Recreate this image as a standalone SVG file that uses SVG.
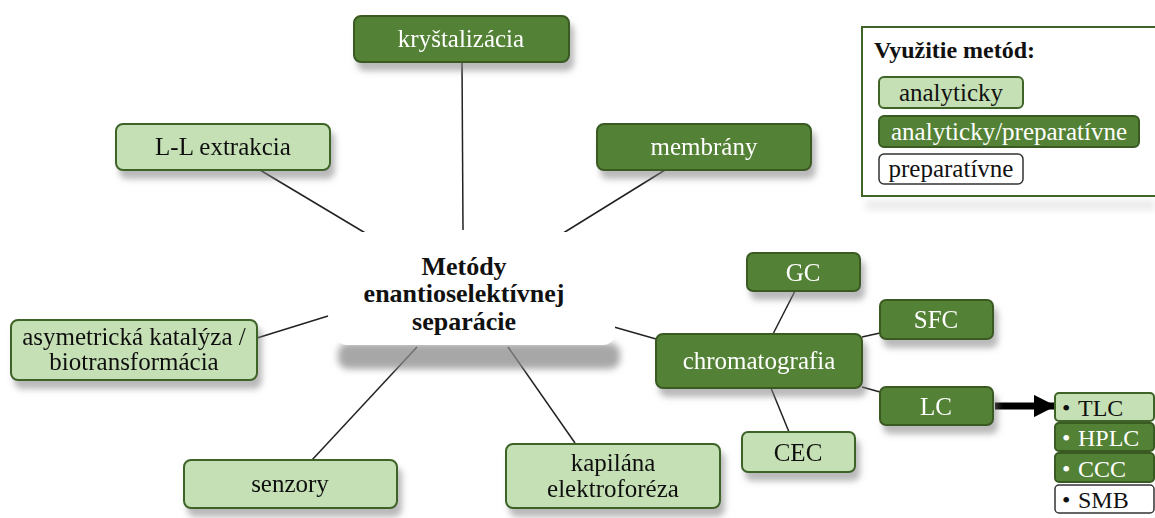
<svg xmlns="http://www.w3.org/2000/svg" width="1155" height="518" viewBox="0 0 1155 518" font-family="Liberation Serif, serif">
<defs>
<filter id="sh" x="-20%" y="-30%" width="140%" height="180%">
<feDropShadow dx="4" dy="8" stdDeviation="3" flood-color="#7f7f7f" flood-opacity="0.55"/>
</filter>
<filter id="blur" x="-20%" y="-50%" width="140%" height="200%">
<feGaussianBlur stdDeviation="3.5"/>
</filter>
<marker id="arr" viewBox="0 0 10 10" refX="9" refY="5" markerWidth="3.2" markerHeight="3.2" orient="auto" markerUnits="strokeWidth">
<path d="M0,0 L10,5 L0,10 z" fill="#000"/>
</marker>
</defs>
<style>
.dark{fill:#538135;stroke:#3a5a24;stroke-width:2}
.light{fill:#c5e0b4;stroke:#3e6428;stroke-width:2}
.white{fill:#fff;stroke:#333;stroke-width:1.5}
.box{filter:url(#sh)}
text{font-size:25px;text-anchor:middle}
.tw{fill:#fff}
.tb{fill:#111}
.ctr{font-weight:bold;font-size:26px;fill:#111}
.li{font-size:24px;text-anchor:start}
.conn line{stroke:#222;stroke-width:1.5}
</style>
<rect width="1155" height="518" fill="#fff"/>

<g id="connectors" class="conn">
<line x1="462" y1="62" x2="463" y2="230"/>
<line x1="260" y1="170" x2="377" y2="240"/>
<line x1="665" y1="170" x2="552" y2="240"/>
<line x1="257" y1="338" x2="328" y2="316"/>
<line x1="312" y1="460" x2="417" y2="347"/>
<line x1="575" y1="443" x2="508" y2="347"/>
<line x1="600" y1="323" x2="656" y2="339"/>
<line x1="795" y1="291" x2="773" y2="334"/>
<line x1="862" y1="337" x2="880" y2="333"/>
<line x1="862" y1="387" x2="880" y2="392"/>
<line x1="771" y1="388" x2="789" y2="432"/>
<line x1="995" y1="406" x2="1054" y2="406" style="stroke:#000;stroke-width:7" marker-end="url(#arr)"/>
</g>

<g id="center" font-family="Liberation Serif, serif">
<rect x="338" y="343" width="282" height="26" rx="10" fill="#8a8a8a" opacity="0.75" filter="url(#blur)"/>
<rect x="335" y="232" width="280" height="113" rx="12" fill="#fff"/>
<text class="ctr" x="464" y="275" font-family="Liberation Serif, serif">Metódy</text>
<text class="ctr" x="464" y="302" font-family="Liberation Serif, serif">enantioselektívnej</text>
<text class="ctr" x="464" y="330" font-family="Liberation Serif, serif">separácie</text>
</g>

<g id="krystalizacia" class="box">
<rect class="dark" x="354" y="16" width="215" height="46" rx="7"/>
<text class="tw" x="461" y="47" font-family="Liberation Serif, serif">kryštalizácia</text>
</g>
<g id="ll-extrakcia" class="box">
<rect class="light" x="116" y="124" width="214" height="46" rx="7"/>
<text class="tb" x="223" y="155" font-family="Liberation Serif, serif">L-L extrakcia</text>
</g>
<g id="membrany" class="box">
<rect class="dark" x="597" y="124" width="214" height="46" rx="7"/>
<text class="tw" x="704" y="155" font-family="Liberation Serif, serif">membrány</text>
</g>
<g id="asymetricka" class="box">
<rect class="light" x="11" y="320" width="246" height="60" rx="7"/>
<text class="tb" x="134" y="345" font-family="Liberation Serif, serif">asymetrická katalýza /</text>
<text class="tb" x="134" y="370" font-family="Liberation Serif, serif">biotransformácia</text>
</g>
<g id="senzory" class="box">
<rect class="light" x="184" y="460" width="213" height="48" rx="7"/>
<text class="tb" x="290" y="492" font-family="Liberation Serif, serif">senzory</text>
</g>
<g id="kapilana" class="box">
<rect class="light" x="506" y="444" width="214" height="64" rx="7"/>
<text class="tb" x="613" y="471" font-family="Liberation Serif, serif">kapilána</text>
<text class="tb" x="613" y="497" font-family="Liberation Serif, serif">elektroforéza</text>
</g>
<g id="chromatografia" class="box">
<rect class="dark" x="656" y="334" width="206" height="54" rx="7"/>
<text class="tw" x="759" y="369" font-family="Liberation Serif, serif">chromatografia</text>
</g>
<g id="gc" class="box">
<rect class="dark" x="747" y="253" width="113" height="38" rx="6"/>
<text class="tw" x="803" y="281" font-family="Liberation Serif, serif">GC</text>
</g>
<g id="sfc" class="box">
<rect class="dark" x="880" y="300" width="113" height="39" rx="6"/>
<text class="tw" x="936" y="328" font-family="Liberation Serif, serif">SFC</text>
</g>
<g id="lc" class="box">
<rect class="dark" x="880" y="387" width="113" height="38" rx="6"/>
<text class="tw" x="936" y="415" font-family="Liberation Serif, serif">LC</text>
</g>
<g id="cec" class="box">
<rect class="light" x="742" y="432" width="113" height="40" rx="6"/>
<text class="tb" x="798" y="461" font-family="Liberation Serif, serif">CEC</text>
</g>

<g id="lc-list">
<g id="tlc"><rect class="light" x="1055" y="393" width="99" height="28" rx="4"/><text class="tb li" x="1062" y="416" font-family="Liberation Serif, serif">•</text><text class="tb li" x="1078" y="416" font-family="Liberation Serif, serif">TLC</text></g>
<g id="hplc"><rect class="dark" x="1055" y="423" width="99" height="28" rx="4"/><text class="tw li" x="1062" y="446" font-family="Liberation Serif, serif">•</text><text class="tw li" x="1078" y="446" font-family="Liberation Serif, serif">HPLC</text></g>
<g id="ccc"><rect class="dark" x="1055" y="453" width="99" height="29" rx="4"/><text class="tw li" x="1062" y="477" font-family="Liberation Serif, serif">•</text><text class="tw li" x="1078" y="477" font-family="Liberation Serif, serif">CCC</text></g>
<g id="smb"><rect class="white" x="1055" y="485" width="99" height="28" rx="4"/><text class="tb li" x="1062" y="508" font-family="Liberation Serif, serif">•</text><text class="tb li" x="1078" y="508" font-family="Liberation Serif, serif">SMB</text></g>
</g>

<g id="legend">
<rect x="866" y="200" width="289" height="10" fill="#ccc" opacity="0.4" filter="url(#blur)"/>
<rect x="862" y="27" width="300" height="169" fill="#fff" stroke="#3e6428" stroke-width="2"/>
<text x="874" y="58" font-family="Liberation Serif, serif" style="text-anchor:start;font-weight:bold;font-size:24px;fill:#111">Využitie metód:</text>
<rect class="light" x="879" y="77" width="144" height="31" rx="5"/>
<text class="tb" x="951" y="101" font-family="Liberation Serif, serif">analyticky</text>
<rect class="dark" x="879" y="116" width="260" height="31" rx="5"/>
<text class="tw" x="1009" y="140" font-family="Liberation Serif, serif">analyticky/preparatívne</text>
<rect class="white" x="879" y="154" width="144" height="30" rx="5"/>
<text class="tb" x="951" y="177" font-family="Liberation Serif, serif">preparatívne</text>
</g>
</svg>
